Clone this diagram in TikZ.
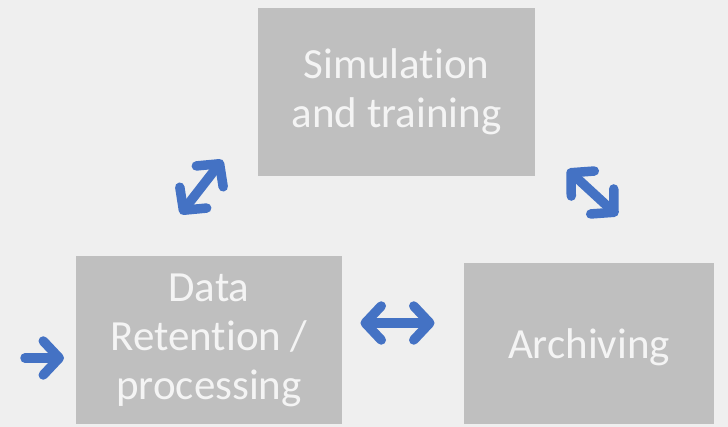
\documentclass[tikz,border=0pt]{standalone}
\usepackage{fontspec}
\setmainfont{Carlito}[Ligatures=NoCommon]
\usetikzlibrary{arrows.meta}
\definecolor{bg}{HTML}{EFEFEF}
\definecolor{boxgray}{HTML}{BFBFBF}
\definecolor{arrowblue}{HTML}{4472C4}
\definecolor{textwhite}{HTML}{F4F4F4}
\begin{document}
\begin{tikzpicture}[x=1pt,y=-1pt,
  box/.style={fill=boxgray, draw=none, text=textwhite, align=center,
    font=\fontsize{43}{49}\selectfont, inner sep=0pt},
  link/.style={draw=arrowblue, line width=9.5pt, line cap=round,
    {Straight Barb[length=16pt,width=34pt,round]}-{Straight Barb[length=16pt,width=34pt,round]}},
  feed/.style={draw=arrowblue, line width=9.5pt, line cap=round,
    -{Straight Barb[length=16pt,width=34pt,round]}}]
\fill[bg] (0,0) rectangle (728,427);
\useasboundingbox (0,0) rectangle (728,427);
\node[box, minimum width=277pt, minimum height=168pt] (sim) at (396.5,92) {Simulation\\and training};
\node[box, minimum width=266pt, minimum height=168pt] (data) at (209,340) {Data\\Retention /\\processing};
\node[box, minimum width=250pt, minimum height=161pt, text depth=0pt] (arch) at (589,343.5) {Archiving};
\coordinate (a1s) at (180.5,214);
\coordinate (a1e) at (222.5,160);
\coordinate (a2s) at (567.5,169.5);
\coordinate (a2e) at (617.5,215.5);
\coordinate (a3s) at (360.5,323);
\coordinate (a3e) at (434.5,323);
\coordinate (a4s) at (25,358);
\coordinate (a4e) at (64,358);
\draw[link] (a1s) -- (a1e);
\draw[link] (a2s) -- (a2e);
\draw[link] (a3s) -- (a3e);
\draw[feed] (a4s) -- (a4e);
\end{tikzpicture}
\end{document}
